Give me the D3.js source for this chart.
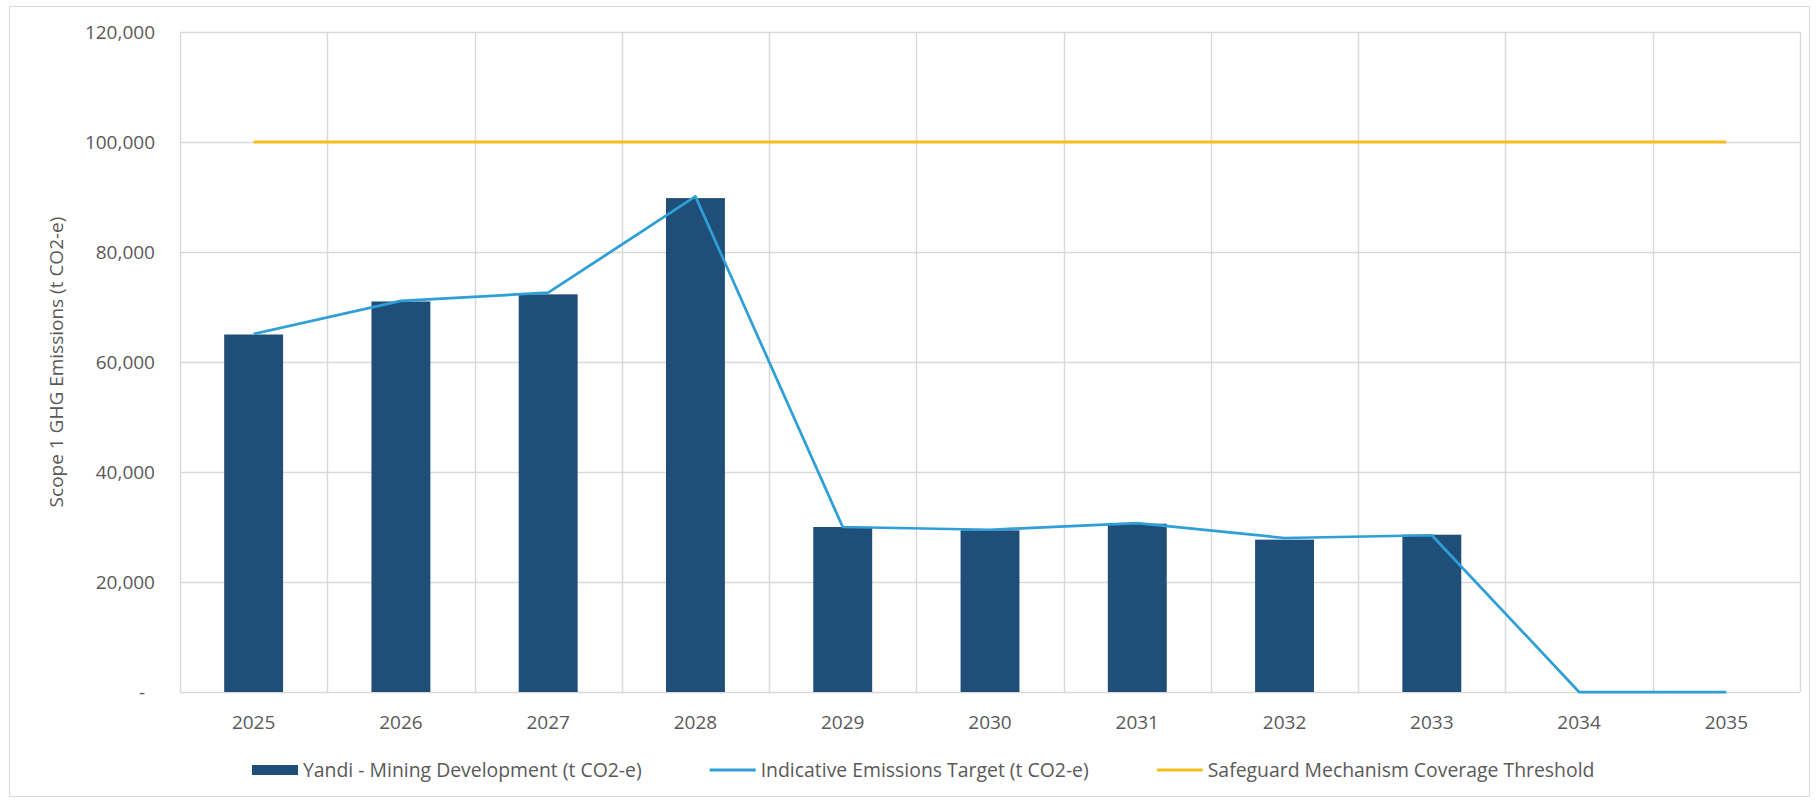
<!DOCTYPE html>
<html lang="en">
<head>
    <meta charset="UTF-8">
    <title>Scope 1 GHG Emissions</title>
    <script src="https://d3js.org/d3.v7.min.js"></script>
    <style>
        body { margin: 0; background: #fff; }
        svg { display: block; font-family: "Open Sans", sans-serif; }
    </style>
</head>
<body>

    <svg width="1816" height="800"></svg>

</body>

<script>

    // data
    var years = ['2025','2026','2027','2028','2029','2030','2031','2032','2033','2034','2035'];
    var mining = [65000, 71000, 72300, 89800, 30000, 29400, 30600, 27700, 28600, null, null];
    var target = [65100, 71100, 72600, 90100, 30000, 29500, 30700, 28000, 28500, 0, 0];
    var threshold = [100000, 100000, 100000, 100000, 100000, 100000, 100000, 100000, 100000, 100000, 100000];
    var yTicks = [0, 20000, 40000, 60000, 80000, 100000, 120000];

    var seriesNames = ['Yandi - Mining Development (t CO2-e)', 'Indicative Emissions Target (t CO2-e)', 'Safeguard Mechanism Coverage Threshold'];
    var colors = ['#1f4e79', '#2f9fd8', '#f7bd1e'];

    var svg = d3.select('svg');
    var textColor = '#595959';
    var gridColor = '#d9d9d9';
    var fontSize = '19px';

    // outer chart border
    svg.append('rect')
        .attr('x', 9.5).attr('y', 6.5)
        .attr('width', 1800).attr('height', 790)
        .attr('fill', 'none').attr('stroke', gridColor);

    // plot area (note: "top" is reserved on window, so use pTop)
    var pLeft = 180, pRight = 1800, pTop = 32, pBottom = 692;

    var x = d3.scaleBand().domain(years).range([pLeft, pRight]).paddingInner(0).paddingOuter(0);
    var y = d3.scaleLinear().domain([0, 120000]).range([pBottom, pTop]);

    // bar width with gap width 150%
    var barW = x.bandwidth() / 2.5;

    var g = svg.append('g');

    // horizontal grid
    g.selectAll('.hgrid').data(yTicks).enter().append('line')
        .attr('x1', pLeft).attr('x2', pRight)
        .attr('y1', function (d) { return Math.round(y(d)) + 0.5; })
        .attr('y2', function (d) { return Math.round(y(d)) + 0.5; })
        .attr('stroke', gridColor).attr('stroke-width', 1.5);

    // vertical grid at category boundaries
    var bounds = years.map(function (d) { return x(d); }).concat([pRight]);
    g.selectAll('.vgrid').data(bounds).enter().append('line')
        .attr('x1', function (d) { return Math.round(d) + 0.5; })
        .attr('x2', function (d) { return Math.round(d) + 0.5; })
        .attr('y1', pTop).attr('y2', pBottom)
        .attr('stroke', gridColor).attr('stroke-width', 1.5);

    // y tick labels
    var fmt = d3.format(',');
    g.selectAll('.ylab').data(yTicks).enter().append('text')
        .attr('x', function (d) { return d === 0 ? 145 : 155; })
        .attr('y', function (d) { return y(d); })
        .attr('dy', '0.35em')
        .attr('text-anchor', 'end')
        .attr('fill', textColor)
        .style('font-size', fontSize)
        .text(function (d) { return d === 0 ? '-' : fmt(d); });

    // x labels
    g.selectAll('.xlab').data(years).enter().append('text')
        .attr('x', function (d) { return x(d) + x.bandwidth() / 2; })
        .attr('y', 729)
        .attr('text-anchor', 'middle')
        .attr('fill', textColor)
        .style('font-size', fontSize)
        .text(function (d) { return d; });

    // y axis title
    svg.append('text')
        .attr('transform', 'translate(56,' + ((pTop + pBottom) / 2) + ') rotate(-90)')
        .attr('text-anchor', 'middle')
        .attr('dy', '0.35em')
        .attr('fill', textColor)
        .style('font-size', fontSize)
        .text('Scope 1 GHG Emissions (t CO2-e)');

    // bars
    var barData = years.map(function (d, i) { return { year: d, v: mining[i] }; })
        .filter(function (d) { return d.v != null; });
    g.selectAll('.bar').data(barData).enter().append('rect')
        .attr('x', function (d) { return x(d.year) + (x.bandwidth() - barW) / 2; })
        .attr('y', function (d) { return y(d.v); })
        .attr('width', barW)
        .attr('height', function (d) { return y(0) - y(d.v); })
        .attr('fill', colors[0]);

    var line = d3.line()
        .x(function (d, i) { return x(years[i]) + x.bandwidth() / 2; })
        .y(function (d) { return y(d); });

    g.append('path').datum(threshold)
        .attr('d', line)
        .attr('fill', 'none')
        .attr('stroke', colors[2])
        .attr('stroke-width', 3);

    g.append('path').datum(target)
        .attr('d', line)
        .attr('fill', 'none')
        .attr('stroke', colors[1])
        .attr('stroke-width', 2.75)
        .attr('stroke-linejoin', 'round');

    // legend
    var legend = svg.append('g');
    var swW = 46, swGap = 5, itemGap = 68, legY = 770;
    var items = legend.selectAll('.item').data(seriesNames).enter().append('g');
    items.append('text')
        .attr('x', swW + swGap)
        .attr('y', legY)
        .attr('dy', '0.35em')
        .attr('fill', textColor)
        .style('font-size', '19.4px')
        .text(function (d) { return d; });
    items.each(function (d, i) {
        var it = d3.select(this);
        if (i === 0) {
            it.append('rect').attr('x', 0).attr('y', legY - 5).attr('width', swW).attr('height', 10).attr('fill', colors[0]);
        } else {
            it.append('line').attr('x1', 0).attr('x2', swW).attr('y1', legY).attr('y2', legY)
                .attr('stroke', colors[i]).attr('stroke-width', 3);
        }
    });
    var pos = 0;
    items.each(function () {
        var w = swW + swGap + d3.select(this).select('text').node().getComputedTextLength();
        d3.select(this).attr('transform', 'translate(' + pos + ',0)');
        pos += w + itemGap;
    });
    legend.attr('transform', 'translate(252,0)');

</script>

</html>
